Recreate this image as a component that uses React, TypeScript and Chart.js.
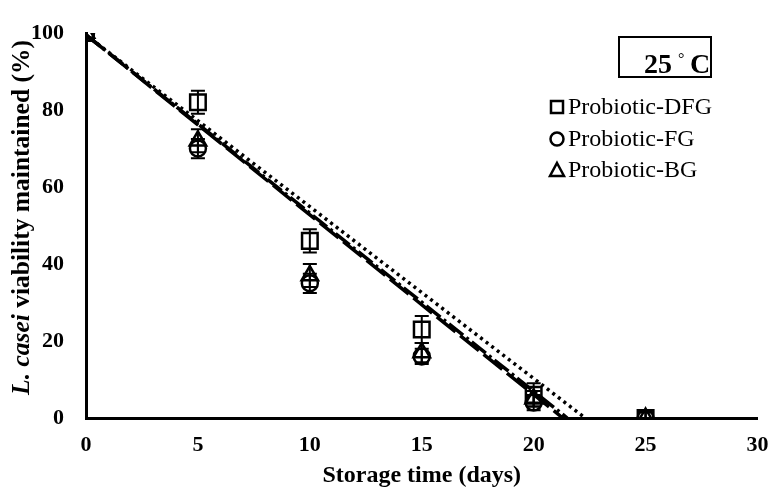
import React, { useEffect, useRef } from "react";
import { Chart, registerables } from "chart.js";

Chart.register(...registerables);

const FONT = '"Liberation Serif", "Times New Roman", serif';

// Storage time (days)
const days = [0, 5, 10, 15, 20, 25];
// L. casei viability maintained (%)
const dfgValues = [100, 82, 46, 23, 6, 0];
const fgValues = [100, 70, 35, 16, 4, 0];
const bgValues = [100, 72, 37, 17, 5, 0];
// standard deviations
const dfgErrors = [0, 3, 3, 3.5, 3, 2];
const fgErrors = [0, 2.5, 2.5, 2, 2, 1.5];
const bgErrors = [0, 3, 3, 2.5, 2, 1.5];
// linear trend lines (start / end)
const dfgTrendX = [0, 22.3];
const fgTrendX = [0, 21.3];
const bgTrendX = [0, 21.5];
const trendY = [99.5, 0];

const seriesLabels = ["Probiotic-DFG", "Probiotic-FG", "Probiotic-BG"];
const xTicks = [0, 5, 10, 15, 20, 25, 30];
const yTicks = [0, 20, 40, 60, 80, 100];
const temperatureLabel = "25";

const toPoints = (xs: number[], ys: number[]) => xs.map((x, i) => ({ x, y: ys[i] }));

const errorBarPlugin = {
  id: "errorBars",
  afterDatasetsDraw(chart: any) {
    const { ctx } = chart;
    const yScale = chart.scales.y;
    const xScale = chart.scales.x;
    ctx.save();
    ctx.strokeStyle = "#000";
    ctx.lineWidth = 2;
    chart.data.datasets.forEach((ds: any) => {
      if (!ds.errors) return;
      ds.data.forEach((p: any, i: number) => {
        const e = ds.errors[i];
        if (!e) return;
        const px = xScale.getPixelForValue(p.x);
        const top = yScale.getPixelForValue(p.y + e);
        const bot = yScale.getPixelForValue(Math.max(0, p.y - e));
        ctx.beginPath();
        ctx.moveTo(px, top);
        ctx.lineTo(px, bot);
        ctx.moveTo(px - 7, top);
        ctx.lineTo(px + 7, top);
        ctx.moveTo(px - 7, bot);
        ctx.lineTo(px + 7, bot);
        ctx.stroke();
      });
    });
    ctx.restore();
  },
};

const decorPlugin = {
  id: "decor",
  afterDraw(chart: any) {
    const { ctx, chartArea } = chart;
    ctx.save();
    // y axis title with italic species name
    const parts = [
      { text: "L. casei", font: `italic bold 25.5px ${FONT}` },
      { text: " viability maintained (%)", font: `bold 25.5px ${FONT}` },
    ];
    let total = 0;
    const widths = parts.map((p) => {
      ctx.font = p.font;
      const w = ctx.measureText(p.text).width;
      total += w;
      return w;
    });
    ctx.translate(22, (chartArea.top + chartArea.bottom) / 2 - 8);
    ctx.rotate(-Math.PI / 2);
    ctx.fillStyle = "#000";
    ctx.textBaseline = "middle";
    ctx.textAlign = "left";
    let x = -total / 2;
    parts.forEach((p, i) => {
      ctx.font = p.font;
      ctx.fillText(p.text, x, 0);
      x += widths[i];
    });
    ctx.restore();

    // temperature box
    ctx.save();
    ctx.strokeStyle = "#000";
    ctx.lineWidth = 2;
    ctx.strokeRect(619, 37, 92, 40);
    ctx.fillStyle = "#000";
    ctx.textBaseline = "alphabetic";
    ctx.font = `bold 28px ${FONT}`;
    ctx.fillText(temperatureLabel, 644, 73);
    ctx.font = `16px ${FONT}`;
    ctx.fillText("\u00B0", 678, 64);
    ctx.font = `bold 28px ${FONT}`;
    ctx.fillText("C", 690, 73);
    ctx.restore();

    // legend
    ctx.save();
    ctx.strokeStyle = "#000";
    ctx.fillStyle = "#000";
    ctx.lineWidth = 2.5;
    ctx.font = `24px ${FONT}`;
    ctx.textBaseline = "middle";
    const styles = ["rect", "circle", "triangle"];
    const ys = [107, 139, 170];
    styles.forEach((s, i) => {
      const cx = 557;
      const cy = ys[i];
      ctx.beginPath();
      if (s === "rect") {
        ctx.rect(cx - 6, cy - 6, 12, 12);
      } else if (s === "circle") {
        ctx.arc(cx, cy, 6.5, 0, Math.PI * 2);
      } else {
        ctx.moveTo(cx, cy - 7);
        ctx.lineTo(cx + 7, cy + 6);
        ctx.lineTo(cx - 7, cy + 6);
        ctx.closePath();
      }
      ctx.stroke();
      ctx.fillText(seriesLabels[i], 568, cy + 1);
    });
    ctx.restore();
  },
};

export default function App() {
  const canvasRef = useRef<HTMLCanvasElement | null>(null);

  useEffect(() => {
    if (!canvasRef.current) return;
    const pointBase = {
      type: "scatter" as const,
      showLine: false,
      borderColor: "#000",
      backgroundColor: "rgba(0,0,0,0)",
      pointBorderWidth: 2.5,
    };
    const lineBase = {
      type: "line" as const,
      borderColor: "#000",
      borderWidth: 3.5,
      pointRadius: 0,
      fill: false,
      tension: 0,
    };
    const chart = new Chart(canvasRef.current, {
      type: "scatter",
      data: {
        datasets: [
          { ...lineBase, label: "trend-DFG", data: toPoints(dfgTrendX, trendY), borderDash: [3, 4] },
          { ...lineBase, label: "trend-FG", data: toPoints(fgTrendX, trendY), borderDash: [24, 6] },
          { ...lineBase, label: "trend-BG", data: toPoints(bgTrendX, trendY), borderDash: [18, 4, 3, 4] },
          { ...pointBase, label: seriesLabels[0], data: toPoints(days, dfgValues), pointStyle: "rect", pointRadius: 11, errors: dfgErrors } as any,
          { ...pointBase, label: seriesLabels[1], data: toPoints(days, fgValues), pointStyle: "circle", pointRadius: 8, errors: fgErrors } as any,
          { ...pointBase, label: seriesLabels[2], data: toPoints(days, bgValues), pointStyle: "triangle", pointRadius: 9.5, errors: bgErrors } as any,
        ],
      },
      options: {
        animation: false,
        responsive: false,
        layout: { padding: { left: 0, top: 33, right: 0, bottom: 0 } },
        plugins: {
          legend: { display: false },
          tooltip: { enabled: false },
        },
        scales: {
          x: {
            type: "linear",
            min: 0,
            max: 30,
            afterBuildTicks: (s: any) => {
              s.ticks = xTicks.map((v) => ({ value: v }));
            },
            afterFit: (s: any) => {
              s.height = 76;
              s.paddingRight = 0;
              s.paddingLeft = 0;
            },
            ticks: { color: "#000", padding: 14, font: { family: FONT, size: 22, weight: "bold" } },
            grid: { display: false, drawTicks: false },
            border: { display: true, color: "#000", width: 3 },
            title: {
              display: true,
              text: "Storage time (days)",
              color: "#000",
              padding: { top: 0, bottom: 4 },
              font: { family: FONT, size: 24, weight: "bold" },
            },
          },
          y: {
            type: "linear",
            min: 0,
            max: 100,
            afterBuildTicks: (s: any) => {
              s.ticks = yTicks.map((v) => ({ value: v }));
            },
            afterFit: (s: any) => {
              s.width = 86;
              s.paddingTop = 0;
              s.paddingBottom = 0;
            },
            ticks: { color: "#000", padding: 22, font: { family: FONT, size: 22, weight: "bold" } },
            grid: { display: false, drawTicks: false },
            border: { display: true, color: "#000", width: 3 },
          },
        },
      },
      plugins: [errorBarPlugin, decorPlugin],
    } as any);
    return () => chart.destroy();
  }, []);

  return (
    <div style={{ position: "absolute", left: 0, top: 0, width: 771, height: 494, background: "#fff" }}>
      <canvas ref={canvasRef} width={771} height={494} style={{ display: "block" }} />
    </div>
  );
}
